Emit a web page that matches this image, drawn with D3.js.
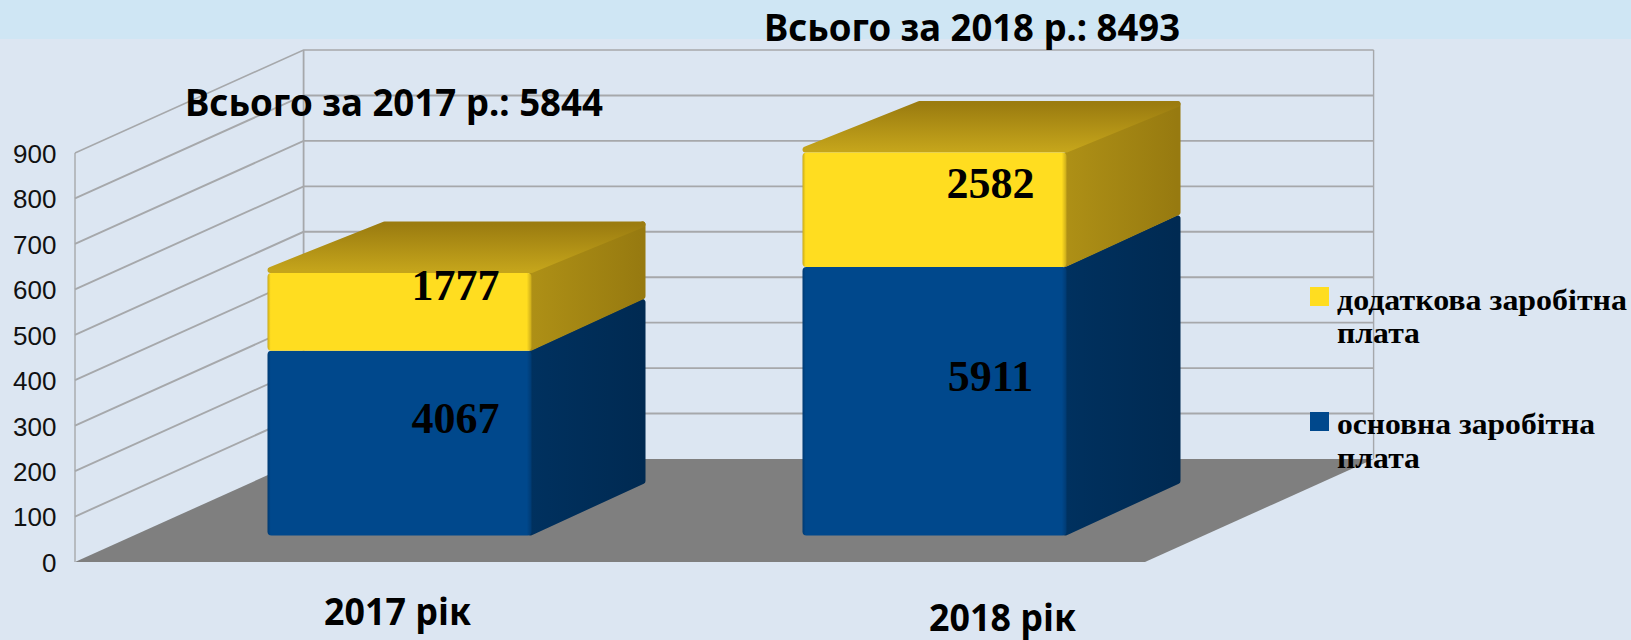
<!DOCTYPE html>
<html><head><meta charset="utf-8">
<script src="https://cdn.jsdelivr.net/npm/d3@7/dist/d3.min.js"></script>
<style>html,body{margin:0;padding:0;background:#dce6f2;overflow:hidden}svg{display:block}</style>
</head><body><svg id="c" width="1631" height="640"></svg>
<script>
const categories = ["2017 рік", "2018 рік"];
const basicPay = [4067, 5911];
const extraPay = [1777, 2582];
const totals = ["Всього за 2017 р.: 5844", "Всього за 2018 р.: 8493"];
const tickValues = [0,1000,2000,3000,4000,5000,6000,7000,8000,9000];
const legendLabels = [["додаткова заробітна","плата"],["основна заробітна","плата"]];

const W=1631,H=640;
const svg=d3.select("#c");
const defs=svg.append("defs");
function grad(id,x2,y2,stops){
  const g=defs.append("linearGradient").attr("id",id).attr("x1",0).attr("y1",0).attr("x2",x2).attr("y2",y2);
  stops.forEach(s=>g.append("stop").attr("offset",s[0]).attr("stop-color",s[1]));
}
grad("yFront",1,0,[[0,"#c9a91a"],[.012,"#ffdd20"],[.982,"#ffdd20"],[1,"#c9a91a"]]);
grad("bFront",1,0,[[0,"#003a72"],[.012,"#00488c"],[.982,"#00488c"],[1,"#003a72"]]);
grad("yTop",0,1,[[0,"#9b7c10"],[1,"#c4a41b"]]);
grad("ySide",1,0,[[0,"#ae9016"],[1,"#977a10"]]);
grad("bSide",1,0,[[0,"#00315f"],[1,"#002a52"]]);

svg.append("rect").attr("width",W).attr("height",H).attr("fill","#dce6f2");
svg.append("rect").attr("width",W).attr("height",39).attr("fill","#cfe6f4");

const y=d3.scaleLinear().domain([0,9000]).range([562,153]);
const x=d3.scaleBand().domain(categories).range([75,1145]).paddingInner(.5065).paddingOuter(.25325);
const wallDx=228.6,wallDy=103, rightX=1145+wallDx;
const barDx=114,barDy=51.5, frontDx=57, frontDy=26.5, topBevel=3;
const grid="#a6a8ab";

// floor
svg.append("polygon").attr("fill","#7f7f7f").attr("points",[
  [x.range()[0],y(0)],[x.range()[0]+wallDx,y(0)-wallDy],[rightX,y(0)-wallDy],[x.range()[1],y(0)]
].join(" "));
// walls
const g=svg.append("g").attr("fill","none").attr("stroke",grid);
tickValues.forEach(t=>{
  if(t>0) g.append("path").attr("stroke-width",t===9000?1.5:1.9).attr("d",`M75,${y(t)}L${75+wallDx},${y(t)-wallDy}H${rightX}`);
});
g.append("path").attr("stroke-width",1.4).attr("d",`M75,${y(0)}V${y(9000)}`);
g.append("path").attr("stroke-width",1.8).attr("d",`M${75+wallDx},${y(0)-wallDy}V${y(9000)-wallDy}`);
g.append("path").attr("stroke-width",1.4).attr("d",`M${rightX},${y(0)-wallDy}V${y(9000)-wallDy}`);

// axis
const axis=svg.append("g").attr("transform","translate(75,0)")
  .call(d3.axisLeft(y).tickValues(tickValues).tickSize(0).tickPadding(18.5).tickFormat(d=>d/10));
axis.select(".domain").remove();
axis.selectAll("text").attr("font-family","Liberation Sans").attr("font-size",26).attr("fill","#111").attr("dy","0.36em");

// bars
function seg(i,v0,v1,front,top,side,drawTop){
  const xl=x(categories[i])+frontDx, xr=xl+x.bandwidth();
  const y0=y(v0)-frontDy, y1=y(v1)-frontDy+(drawTop?topBevel:0);
  const gb=svg.append("g").attr("stroke-linejoin","round").attr("stroke-width",6);
  const r=3;
  gb.append("polygon").attr("fill",`url(#${side})`).attr("stroke",`url(#${side})`)
    .attr("points",[[xr-1,y1+r],[xr+barDx-r,y1-barDy+r],[xr+barDx-r,y0-barDy-r],[xr-1,y0-r]].join(" "));
  if(drawTop) gb.append("polygon").attr("fill",`url(#${top})`).attr("stroke",`url(#${top})`)
    .attr("points",[[xl+r,y1-r],[xl+barDx+r,y1-barDy+r],[xr+barDx-r,y1-barDy+r],[xr,y1-r]].join(" "));
  gb.append("rect").attr("x",xl).attr("y",y1).attr("width",xr-xl).attr("height",y0-y1)
    .attr("rx",4).attr("fill",`url(#${front})`).attr("stroke","none");
}
categories.forEach((c,i)=>{
  seg(i,0,basicPay[i],"bFront",null,"bSide",false);
  seg(i,basicPay[i],basicPay[i]+extraPay[i],"yFront","yTop","ySide",true);
});

// value labels
function val(i,v0,v){
  svg.append("text").attr("x",x(categories[i])+frontDx+x.bandwidth()/2+56)
    .attr("y",y(v0+v/2)-frontDy-25+14.5).attr("text-anchor","middle")
    .attr("font-family","Liberation Serif").attr("font-weight",700).attr("font-size",44).attr("fill","#000").text(v);
}
categories.forEach((c,i)=>{val(i,0,basicPay[i]);val(i,basicPay[i],extraPay[i]);});

// fitted text
function ft(s,x0,x1,base,fam,size){
  svg.append("text").attr("x",x0).attr("y",base).attr("textLength",x1-x0).attr("lengthAdjust","spacingAndGlyphs")
    .attr("font-family",fam).attr("font-weight",700).attr("font-size",size).attr("fill","#000").text(s);
}
const S="Noto Sans";
ft(totals[0],185,603,116,S,38);
ft(totals[1],764,1180,41,S,38);
ft(categories[0],324,471,624.5,S,38);
ft(categories[1],929,1076,630.5,S,38);

// legend
const ser="Liberation Serif";
svg.append("rect").attr("x",1310).attr("y",287).attr("width",19).attr("height",19).attr("fill","#ffdd20");
svg.append("rect").attr("x",1310).attr("y",412).attr("width",19).attr("height",19).attr("fill","#00488c");
ft(legendLabels[0][0],1337,1627,309.5,ser,30);
ft(legendLabels[0][1],1337,1420,343,ser,30);
ft(legendLabels[1][0],1337,1595,434,ser,30);
ft(legendLabels[1][1],1337,1420,468,ser,30);
</script></body></html>
